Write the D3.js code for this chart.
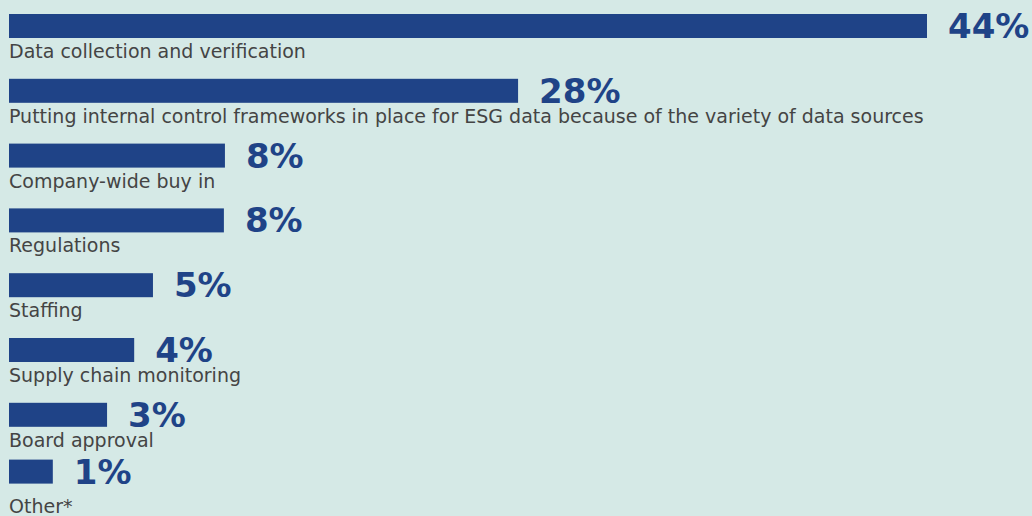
<!DOCTYPE html>
<html>
<head>
<meta charset="utf-8">
<script src="https://cdn.jsdelivr.net/npm/d3@7"></script>
<style>
  html, body { margin: 0; padding: 0; background: #d5e9e6; }
  svg { display: block; }
</style>
</head>
<body>
<svg id="chart"></svg>
<script>
// categories, top to bottom
const categories = [
  "Data collection and verification",
  "Putting internal control frameworks in place for ESG data because of the variety of data sources",
  "Company-wide buy in",
  "Regulations",
  "Staffing",
  "Supply chain monitoring",
  "Board approval",
  "Other*"
]
// printed share of respondents
const shares = [44, 28, 8, 8, 5, 4, 3, 1]
// bar lengths as drawn in the original (percent units, not strictly proportional to the labels)
const barValues = [44, 24.4, 10.35, 10.3, 6.9, 6.0, 4.7, 2.1]

const W = 1032, H = 516
const left = 9, barH = 24, gap = 21

let svg = d3.select("#chart").attr("width", W).attr("height", H)

let x = d3.scaleLinear().domain([0, 44]).range([left, left + 918])
let y = d3.scaleLinear().domain([0, categories.length - 1]).range([14, 14 + 64.8 * 7])

// last row sits a bit tighter with a lower label
function rowTop(i){
	return i == categories.length - 1 ? y(i) - 8 : y(i)
}
function labelBase(i){
	return i == categories.length - 1 ? rowTop(i) + barH + 29 : rowTop(i) + barH + 20
}

let rows = svg.selectAll("g.row")
	.data(categories)
	.join("g")
	.attr("class", "row")

rows.append("rect")
	.attr("x", left)
	.attr("y", (d, i) => rowTop(i))
	.attr("width", (d, i) => x(barValues[i]) - left)
	.attr("height", barH)
	.attr("fill", "#1f4387")

rows.append("text")
	.attr("x", (d, i) => x(barValues[i]) + gap)
	.attr("y", (d, i) => rowTop(i) + barH)
	.attr("font-family", "'DejaVu Sans', Verdana, sans-serif")
	.attr("font-weight", "bold")
	.attr("font-size", 34)
	.attr("fill", "#1f4387")
	.text((d, i) => shares[i] + "%")

rows.append("text")
	.attr("x", left)
	.attr("y", (d, i) => labelBase(i))
	.attr("font-family", "'DejaVu Sans', Verdana, sans-serif")
	.attr("font-size", 19)
	.attr("fill", "#444444")
	.text(d => d)
</script>
</body>
</html>
